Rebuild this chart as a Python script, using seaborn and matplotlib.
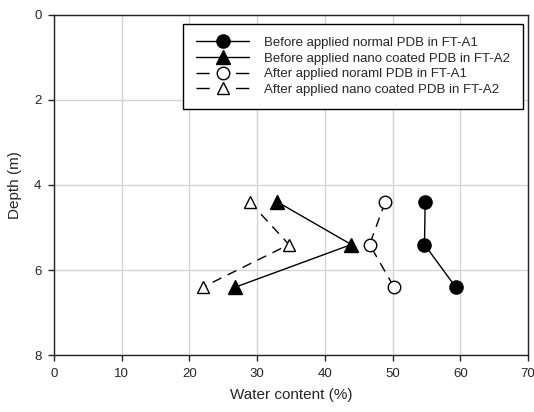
import matplotlib
matplotlib.use("Agg")
import matplotlib.pyplot as plt
import seaborn as sns
from matplotlib.lines import Line2D

# Depth of the measurement points (m)
depth = [4.4, 5.4, 6.4]

# Water content (%) at each depth
before_normal_a1 = [54.8, 54.7, 59.3]
before_nano_a2 = [33.0, 43.9, 26.8]
after_normal_a1 = [48.9, 46.6, 50.2]
after_nano_a2 = [28.9, 34.7, 22.0]

labels = [
    "Before applied normal PDB in FT-A1",
    "Before applied nano coated PDB in FT-A2",
    "After applied noraml PDB in FT-A1",
    "After applied nano coated PDB in FT-A2",
]

sns.set_style("ticks")
plt.rcParams["font.family"] = ["Liberation Sans", "DejaVu Sans"]

fig = plt.figure(figsize=(5.34, 4.12), dpi=100)
ax = fig.add_axes([0.101, 0.138, 0.888, 0.826])

series = [
    (before_normal_a1, "o", "black", "-", 9.5),
    (before_nano_a2, "^", "black", "-", 9.5),
    (after_normal_a1, "o", "white", (0, (7, 5)), 9.0),
    (after_nano_a2, "^", "white", (0, (7, 5)), 9.0),
]

handles = []
for vals, mk, fc, ls, ms in series:
    sns.lineplot(x=vals, y=depth, sort=False, estimator=None, ax=ax,
                 color="black", linewidth=1.0, linestyle=ls,
                 marker=mk, markersize=ms, markerfacecolor=fc,
                 markeredgecolor="black", markeredgewidth=1.0, zorder=3)
    handles.append(Line2D([], [], color="black", linewidth=1.0,
                          linestyle="-" if ls == "-" else (0, (9.5, 19)),
                          marker=mk, markersize=ms, markerfacecolor=fc,
                          markeredgecolor="black", markeredgewidth=1.0))

ax.set_xlim(0, 70)
ax.set_ylim(8, 0)
ax.set_xticks(range(0, 71, 10))
ax.set_yticks(range(0, 9, 2))
ax.grid(True, color="#d4d4d4", linewidth=1.0, zorder=0)
ax.set_axisbelow(True)

for sp in ax.spines.values():
    sp.set_visible(True)
    sp.set_color("#222222")
    sp.set_linewidth(1.0)

ax.tick_params(direction="out", length=4, width=1.0, color="#222222",
               labelsize=9.5, pad=5)
ax.set_xlabel("Water content (%)", fontsize=11, labelpad=6)
ax.set_ylabel("Depth (m)", fontsize=11, labelpad=9)

leg = ax.legend(handles, labels, loc="upper right", bbox_to_anchor=(0.989, 0.974),
                borderaxespad=0.0,
                fontsize=9.5, frameon=True, fancybox=False, edgecolor="black",
                framealpha=1.0, handlelength=4.0, handletextpad=1.1,
                labelspacing=0.25, borderpad=1.0, numpoints=1)
leg.get_frame().set_linewidth(1.0)

fig.savefig("out.png", dpi=100)
